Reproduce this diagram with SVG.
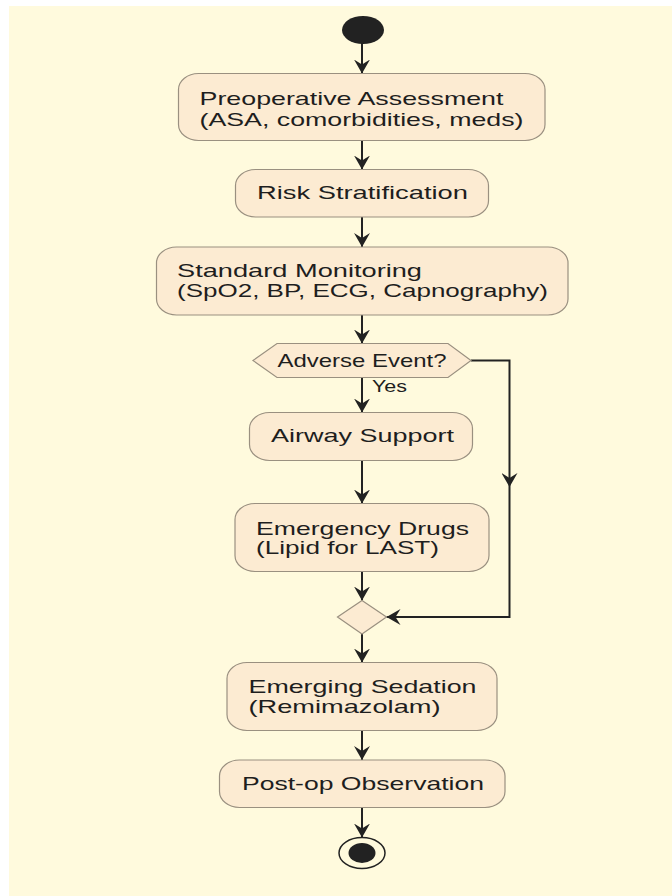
<svg xmlns="http://www.w3.org/2000/svg" width="672" height="896" viewBox="0 0 672 896">
<defs>
<style>
.bg{fill:#FFFADD}
.box{fill:#FCEBD2;stroke:#9A9080;stroke-width:1.2}
.t{font-family:"Liberation Sans",Arial,sans-serif;font-size:19px;fill:#1E1E1E}
.lbl{font-family:"Liberation Sans",Arial,sans-serif;font-size:17px;fill:#1E1E1E}
.c{fill:none;stroke:#222222;stroke-width:2}
</style>
<marker id="ah" viewBox="0 0 14 16" refX="14" refY="8" markerWidth="14" markerHeight="16" markerUnits="userSpaceOnUse" orient="auto">
<path d="M0,0 L14,8 L0,16 L5,8 Z" fill="#222222"/>
</marker>
</defs>
<rect width="672" height="896" fill="#FFFFFF"/>
<rect class="bg" x="9" y="6" width="663" height="890"/>
<g id="connectors">
<line class="c" x1="362" y1="43" x2="362" y2="73.5" marker-end="url(#ah)"/>
<line class="c" x1="362" y1="140.5" x2="362" y2="169.5" marker-end="url(#ah)"/>
<line class="c" x1="362" y1="217" x2="362" y2="247" marker-end="url(#ah)"/>
<line class="c" x1="362" y1="315" x2="362" y2="343.5" marker-end="url(#ah)"/>
<line class="c" x1="362" y1="377.5" x2="362" y2="412.5" marker-end="url(#ah)"/>
<line class="c" x1="362" y1="460.5" x2="362" y2="503.5" marker-end="url(#ah)"/>
<line class="c" x1="362" y1="571.5" x2="362" y2="600.5" marker-end="url(#ah)"/>
<path class="c" d="M471,360.5 H509.5 V487" marker-end="url(#ah)"/>
<path class="c" d="M509.5,487 V617 H386.5" marker-end="url(#ah)"/>
<line class="c" x1="362" y1="634" x2="362" y2="662.5" marker-end="url(#ah)"/>
<line class="c" x1="362" y1="730.5" x2="362" y2="760" marker-end="url(#ah)"/>
<line class="c" x1="362" y1="807.5" x2="362" y2="837.5" marker-end="url(#ah)"/>
<text class="lbl" x="372" y="391.5" textLength="35" lengthAdjust="spacingAndGlyphs">Yes</text>
</g>
<g id="start">
<ellipse cx="363" cy="30" rx="21" ry="14" fill="#222222"/>
</g>
<g id="preop">
<rect class="box" x="178.5" y="73.5" width="366.5" height="67" rx="20" ry="16"/>
<text class="t" x="199.5" y="105" textLength="304" lengthAdjust="spacingAndGlyphs">Preoperative Assessment</text>
<text class="t" x="199.5" y="126" textLength="324" lengthAdjust="spacingAndGlyphs">(ASA, comorbidities, meds)</text>
</g>
<g id="risk">
<rect class="box" x="235.5" y="169.5" width="253" height="47.5" rx="20" ry="16"/>
<text class="t" x="257" y="199" textLength="211" lengthAdjust="spacingAndGlyphs">Risk Stratification</text>
</g>
<g id="monitoring">
<rect class="box" x="156.5" y="247" width="411.5" height="68" rx="20" ry="16"/>
<text class="t" x="177" y="277" textLength="245" lengthAdjust="spacingAndGlyphs">Standard Monitoring</text>
<text class="t" x="177" y="297" textLength="371" lengthAdjust="spacingAndGlyphs">(SpO2, BP, ECG, Capnography)</text>
</g>
<g id="adverse">
<polygon class="box" points="253,360.5 277,343.5 448,343.5 471,360.5 448,377.5 277,377.5"/>
<text class="t" x="277.5" y="366.5" textLength="169" lengthAdjust="spacingAndGlyphs">Adverse Event?</text>
</g>
<g id="airway">
<rect class="box" x="249.5" y="412.5" width="223" height="48" rx="20" ry="16"/>
<text class="t" x="271" y="442" textLength="183" lengthAdjust="spacingAndGlyphs">Airway Support</text>
</g>
<g id="drugs">
<rect class="box" x="235" y="503.5" width="254" height="68" rx="20" ry="16"/>
<text class="t" x="256" y="535" textLength="213" lengthAdjust="spacingAndGlyphs">Emergency Drugs</text>
<text class="t" x="256" y="554" textLength="183" lengthAdjust="spacingAndGlyphs">(Lipid for LAST)</text>
</g>
<g id="merge">
<polygon class="box" points="337.5,617 362,600.5 386.5,617 362,634"/>
</g>
<g id="sedation">
<rect class="box" x="227" y="662.5" width="270" height="68" rx="20" ry="16"/>
<text class="t" x="248.5" y="692.5" textLength="228" lengthAdjust="spacingAndGlyphs">Emerging Sedation</text>
<text class="t" x="248.5" y="712.5" textLength="192" lengthAdjust="spacingAndGlyphs">(Remimazolam)</text>
</g>
<g id="postop">
<rect class="box" x="219.5" y="760" width="285.5" height="47.5" rx="20" ry="16"/>
<text class="t" x="242" y="789.5" textLength="242" lengthAdjust="spacingAndGlyphs">Post-op Observation</text>
</g>
<g id="end">
<ellipse cx="362" cy="853" rx="23" ry="15.5" fill="none" stroke="#222222" stroke-width="1.5"/>
<ellipse cx="362" cy="853" rx="13.5" ry="10" fill="#222222"/>
</g>
</svg>
